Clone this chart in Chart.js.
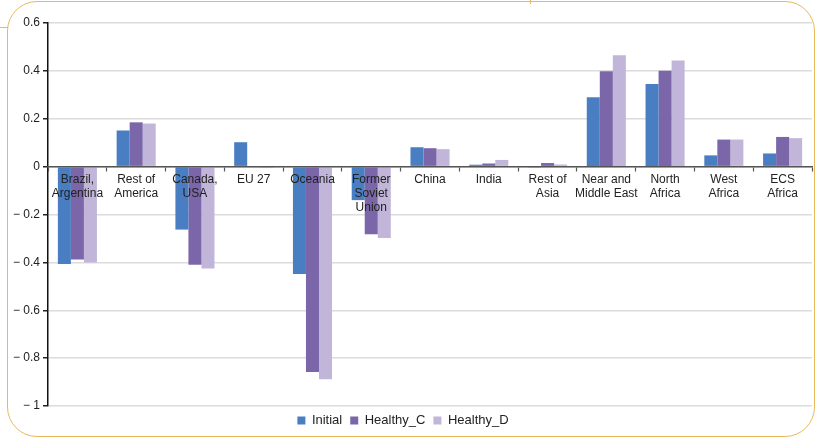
<!DOCTYPE html>
<html>
<head>
<meta charset="utf-8">
<script src="https://cdn.jsdelivr.net/npm/chart.js@4.4.1/dist/chart.umd.min.js"></script>
<style>
  html, body { margin: 0; padding: 0; background: #fff; }
  #wrap { position: relative; width: 815px; height: 439px; overflow: hidden; }
  #frame { position: absolute; left: 7px; top: 1px; width: 808px; height: 436px; border: 1.5px solid #e9b85c; border-radius: 30px; box-sizing: border-box; }
  #tab { position: absolute; left: 0; top: 27px; width: 8px; height: 0; border-top: 1.5px solid #e9b85c; }
  #notch { position: absolute; left: 530px; top: 0; width: 0; height: 4px; border-left: 1.5px solid #e9b85c; }
  canvas { position: absolute; left: 0; top: 0; }
</style>
</head>
<body>
<div id="wrap">
  <div id="frame"></div>
  <div id="tab"></div>
  <div id="notch"></div>
  <canvas id="chart" width="815" height="439"></canvas>
</div>
<script>
const categories = [
  ['Brazil,', 'Argentina'], ['Rest of', 'America'], ['Canada,', 'USA'], 'EU 27', 'Oceania',
  ['Former', 'Soviet', 'Union'], 'China', 'India', ['Rest of', 'Asia'], ['Near and', 'Middle East'],
  ['North', 'Africa'], ['West', 'Africa'], ['ECS', 'Africa']
];
const initial   = [-0.407, 0.151, -0.263, 0.102, -0.449, -0.140, 0.081, 0.008, -0.002, 0.290, 0.345, 0.047, 0.055];
const healthyC  = [-0.388, 0.185, -0.410, -0.003, -0.858, -0.283, 0.077, 0.013, 0.015, 0.398, 0.401, 0.113, 0.124];
const healthyD  = [-0.400, 0.180, -0.426, -0.005, -0.888, -0.298, 0.073, 0.028, 0.009, 0.465, 0.443, 0.113, 0.119];
const yTickValues = [-1, -0.8, -0.6, -0.4, -0.2, 0, 0.2, 0.4, 0.6];
const yTickLabels = ['\u2212 1', '\u2212 0.8', '\u2212 0.6', '\u2212 0.4', '\u2212 0.2', '0', '0.2', '0.4', '0.6'];

const FONT = '"Liberation Sans", Arial, Helvetica, sans-serif';

// nudge the legend a bit left, like the original
const legendShift = {
  id: 'legendShift',
  afterLayout(chart) {
    const lg = chart.legend;
    if (lg) { lg.left -= 8; lg.right -= 8; }
  },
};

new Chart(document.getElementById('chart'), {
  type: 'bar',
  data: {
    labels: categories,
    datasets: [
      { label: 'Initial', data: initial, backgroundColor: '#4a7ec2' },
      { label: 'Healthy_C', data: healthyC, backgroundColor: '#7b66aa' },
      { label: 'Healthy_D', data: healthyD, backgroundColor: '#c1b6d9' },
    ],
  },
  plugins: [legendShift],
  options: {
    responsive: false,
    animation: false,
    datasets: { bar: { categoryPercentage: 0.665, barPercentage: 1.0 } },
    layout: { padding: { top: 23, left: 10, right: 3, bottom: 2 } },
    plugins: {
      tooltip: { enabled: false },
      legend: {
        position: 'bottom',
        labels: {
          boxWidth: 8, boxHeight: 8, padding: 8,
          color: '#222', font: { family: FONT, size: 13 },
        },
      },
    },
    scales: {
      x: {
        position: { y: 0 },
        grid: { drawOnChartArea: false, offset: true, tickLength: 4, tickColor: '#555', tickWidth: 1.2, z: 1 },
        border: { color: '#555', width: 1.5, z: 1 },
        ticks: {
          z: 1,
          color: '#222', font: { family: FONT, size: 12, lineHeight: 1.17 },
          padding: 2, maxRotation: 0, autoSkip: false,
        },
      },
      y: {
        min: -1, max: 0.6,
        afterBuildTicks: scale => { scale.ticks = yTickValues.map(v => ({ value: v })); },
        grid: { color: '#dcdcdc', lineWidth: 1.5, tickLength: 5, tickColor: '#222' },
        border: { color: '#111', width: 1.5 },
        ticks: {
          color: '#222', font: { family: FONT, size: 12 }, padding: 3,
          callback: (v, i) => yTickLabels[i],
        },
      },
    },
  },
});
</script>
</body>
</html>
